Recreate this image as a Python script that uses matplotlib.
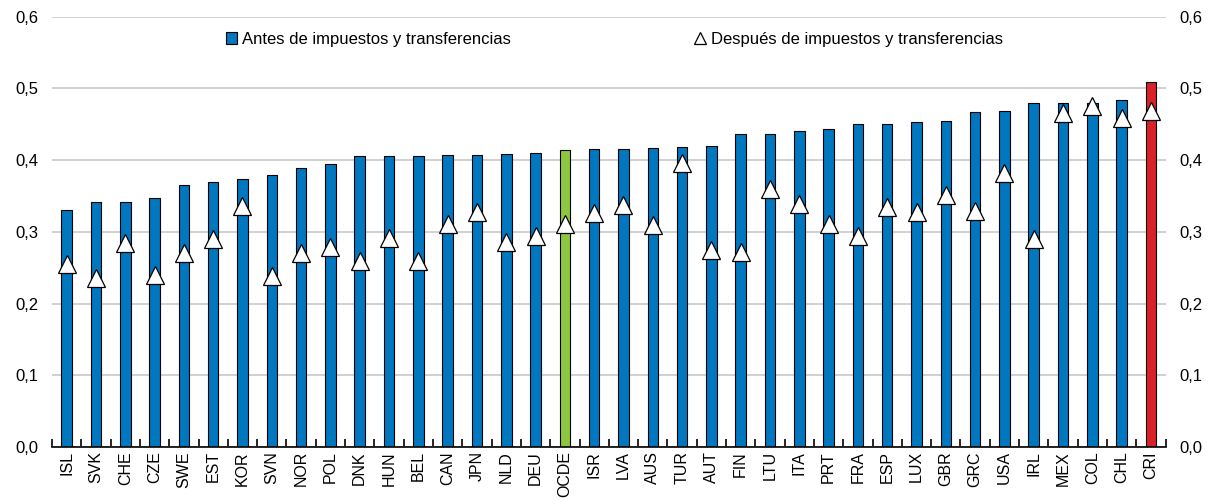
import numpy as np
import matplotlib
matplotlib.use("Agg")
import matplotlib.pyplot as plt
from matplotlib.ticker import FuncFormatter, FixedLocator
from matplotlib.patches import Patch
from matplotlib.lines import Line2D

plt.rcParams['font.family'] = ['Liberation Sans Narrow', 'Liberation Sans', 'DejaVu Sans']

paises = ["ISL", "SVK", "CHE", "CZE", "SWE", "EST", "KOR", "SVN", "NOR", "POL",
          "DNK", "HUN", "BEL", "CAN", "JPN", "NLD", "DEU", "OCDE", "ISR", "LVA",
          "AUS", "TUR", "AUT", "FIN", "LTU", "ITA", "PRT", "FRA", "ESP", "LUX",
          "GBR", "GRC", "USA", "IRL", "MEX", "COL", "CHL", "CRI"]

# Gini antes de impuestos y transferencias
antes = [0.331, 0.341, 0.342, 0.347, 0.365, 0.369, 0.373, 0.379, 0.389, 0.394,
         0.405, 0.405, 0.406, 0.407, 0.407, 0.408, 0.410, 0.414, 0.416, 0.416,
         0.417, 0.418, 0.419, 0.436, 0.436, 0.441, 0.443, 0.451, 0.451, 0.453,
         0.454, 0.467, 0.468, 0.479, 0.479, 0.480, 0.484, 0.509]

# Gini despues de impuestos y transferencias
despues = [0.255, 0.235, 0.284, 0.240, 0.270, 0.290, 0.336, 0.238, 0.270, 0.279,
           0.260, 0.292, 0.260, 0.311, 0.328, 0.286, 0.294, 0.311, 0.326, 0.338,
           0.310, 0.396, 0.275, 0.272, 0.360, 0.339, 0.311, 0.294, 0.334, 0.328,
           0.352, 0.329, 0.382, 0.290, 0.466, 0.475, 0.458, 0.468]

azul = "#0077BE"
colores = [azul] * len(paises)
colores[paises.index("OCDE")] = "#8DC63F"
colores[paises.index("CRI")] = "#DA2128"

x = np.arange(len(paises))

fig = plt.figure(figsize=(12.18, 5.01), dpi=100)
ax = fig.add_axes([0.0427, 0.1078, 0.9143, 0.859])

ax.bar(x, antes, width=0.36, color=colores, edgecolor="black", linewidth=0.8, zorder=2)
ax.plot(x, despues, linestyle="none", marker="^", markersize=13,
        markerfacecolor="white", markeredgecolor="black", markeredgewidth=0.9, zorder=3)

ax.set_xlim(-0.5, len(paises) - 0.5)
ax.set_ylim(0, 0.6)
ax.set_yticks(np.arange(0, 0.61, 0.1))
ax.yaxis.set_major_formatter(FuncFormatter(lambda v, p: f"{v:.1f}".replace(".", ",")))
ax.grid(axis="y", color="#c8c8c8", linewidth=1.2, zorder=0)
ax.set_axisbelow(True)

for s in ["top", "left", "right"]:
    ax.spines[s].set_visible(False)
ax.spines["bottom"].set_linewidth(1.2)

ax.set_xticks(x)
ax.set_xticklabels(paises, rotation=90, fontsize=11.5)
ax.tick_params(axis="x", which="major", length=0, pad=3)
ax.xaxis.set_minor_locator(FixedLocator(np.arange(-0.5, len(paises), 1.0)))
ax.tick_params(axis="x", which="minor", direction="in", length=6, width=1.2)

ax.tick_params(axis="y", length=0, labelsize=12, labelleft=True, labelright=True, pad=10)

handles = [
    Patch(facecolor=azul, edgecolor="black", linewidth=0.8),
    Line2D([], [], linestyle="none", marker="^", markersize=9,
           markerfacecolor="white", markeredgecolor="black", markeredgewidth=0.9),
]
labels = ["Antes de impuestos y transferencias", "Después de impuestos y transferencias"]
ax.legend(handles, labels, loc="upper center", bbox_to_anchor=(0.505, 1.0), ncol=2,
          frameon=False, fontsize=12, handlelength=0.7, handleheight=0.7,
          handletextpad=0.3, columnspacing=11)

fig.savefig("out.png", dpi=100)
